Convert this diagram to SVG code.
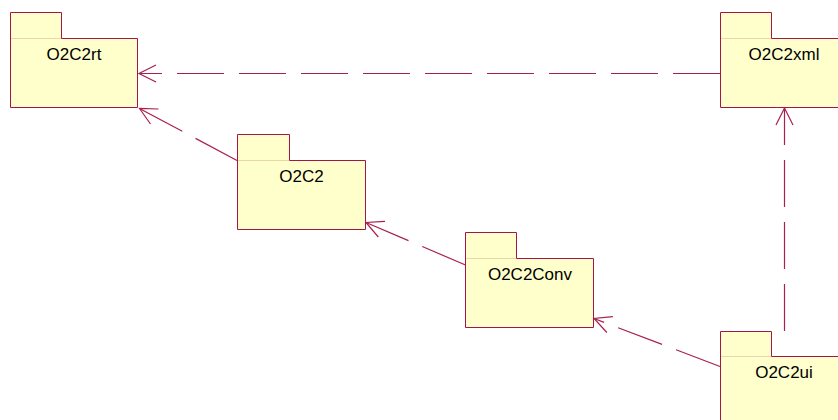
<svg xmlns="http://www.w3.org/2000/svg" width="838" height="420" viewBox="0 0 838 420">
  <style>
    .pkg { fill: #ffffcc; stroke: #a5154a; stroke-width: 1; }
    .sep { stroke: #e8d8a8; stroke-width: 1; fill: none; }
    .lbl { font-family: "Liberation Sans", Arial, sans-serif; font-size: 17px; fill: #000; text-anchor: middle; }
    .dep { stroke: #a8204f; stroke-width: 1.2; fill: none; stroke-dasharray: 47 15; marker-end: url(#open); }
  </style>
  <defs>
    <!-- open V arrowhead for dependency lines -->
    <marker id="open" markerUnits="userSpaceOnUse" viewBox="-20 -10 22 20" refX="0" refY="0" markerWidth="22" markerHeight="20" orient="auto">
      <path d="M-17,-8.5 L0,0 L-17,8.5" fill="none" stroke="#a8204f" stroke-width="1.2"/>
    </marker>
  </defs>

  <rect width="838" height="420" fill="#ffffff"/>

  <!-- packages -->
  <g id="O2C2rt">
    <path class="pkg" d="M10.5,12.5 H61.5 V38.5 H137.5 V107.5 H10.5 Z"/>
    <line class="sep" x1="11" y1="38.5" x2="61" y2="38.5"/>
    <text class="lbl" x="74" y="59.5">O2C2rt</text>
  </g>

  <g id="O2C2xml">
    <path class="pkg" d="M720.5,12.5 H771.5 V38.5 H848 V107.5 H720.5 Z"/>
    <line class="sep" x1="721" y1="38.5" x2="771" y2="38.5"/>
    <text class="lbl" x="784" y="59.5">O2C2xml</text>
  </g>

  <g id="O2C2">
    <path class="pkg" d="M237.5,134.5 H289.5 V160.5 H365.5 V229.5 H237.5 Z"/>
    <line class="sep" x1="238" y1="160.5" x2="289" y2="160.5"/>
    <text class="lbl" x="301.5" y="181.5">O2C2</text>
  </g>

  <g id="O2C2Conv">
    <path class="pkg" d="M465.5,232.5 H516.5 V258.5 H593.5 V327.5 H465.5 Z"/>
    <line class="sep" x1="466" y1="258.5" x2="516" y2="258.5"/>
    <text class="lbl" x="530" y="279.5">O2C2Conv</text>
  </g>

  <g id="O2C2ui">
    <path class="pkg" d="M720.5,331.5 H771.5 V356.5 H848 V430 H720.5 Z"/>
    <line class="sep" x1="721" y1="356.5" x2="771" y2="356.5"/>
    <text class="lbl" x="784" y="377.5">O2C2ui</text>
  </g>

  <!-- dependencies -->
  <g id="connectors">
    <line class="dep" x1="720" y1="73.5" x2="139" y2="73.5"/>
    <line class="dep" x1="237" y1="160.5" x2="139.5" y2="108.5"/>
    <line class="dep" x1="465.5" y1="265" x2="366" y2="222.5"/>
    <line class="dep" x1="720" y1="366.5" x2="594" y2="318.5"/>
    <line class="dep" x1="784.5" y1="331" x2="784.5" y2="108"/>
  </g>
</svg>
